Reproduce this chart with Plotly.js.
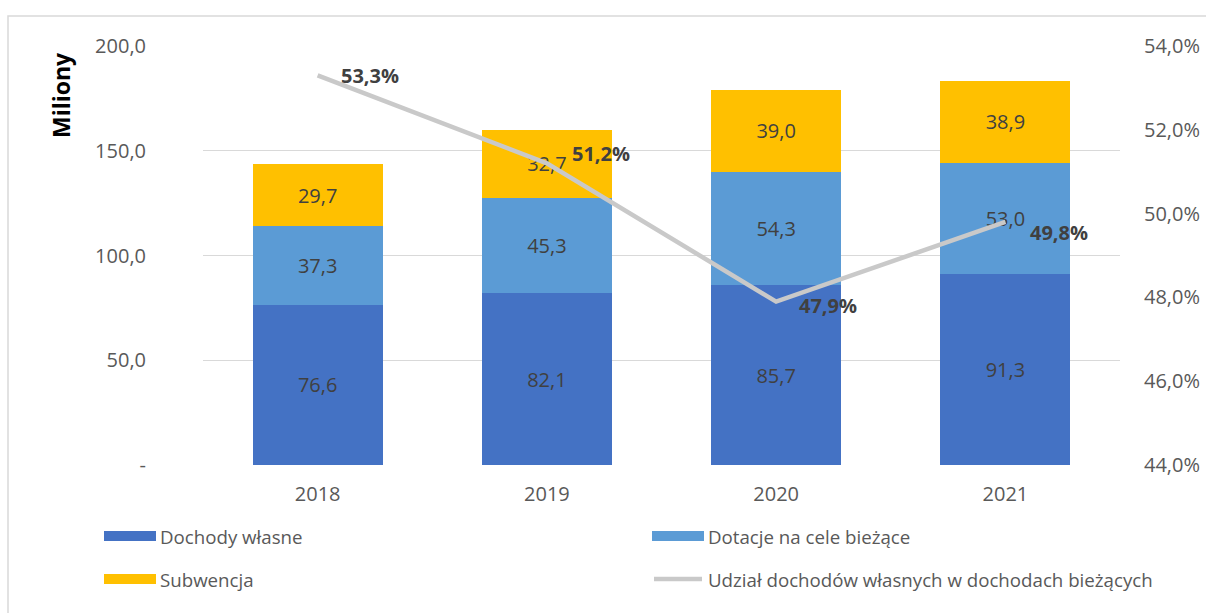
<!DOCTYPE html>
<html><head><meta charset="utf-8">
<script src="https://cdn.plot.ly/plotly-3.0.1.min.js"></script>
<style>html,body{margin:0;padding:0;background:#fff}</style>
</head><body><div id="chart" style="width:1206px;height:613px"></div>
<script>
const years = ['2018', '2019', '2020', '2021'];
const dochodyWlasne = [76.6, 82.1, 85.7, 91.3];
const dotacje = [37.3, 45.3, 54.3, 53.0];
const subwencja = [29.7, 32.7, 39.0, 38.9];
const udzial = [53.3, 51.2, 47.9, 49.8];
const seriesNames = ['Dochody własne', 'Dotacje na cele bieżące', 'Subwencja', 'Udział dochodów własnych w dochodach bieżących'];
const seriesColors = ['#4472C4', '#5B9BD5', '#FFC000', '#C9C9C9'];
const leftTickVals = [0, 50, 100, 150, 200];
const leftTickText = ['-', '50,0', '100,0', '150,0', '200,0'];
const rightTickVals = [44, 46, 48, 50, 52, 54];
const rightTickText = ['44,0%', '46,0%', '48,0%', '50,0%', '52,0%', '54,0%'];

const FONT = 'Open Sans, sans-serif';
const barText = {family: FONT, size: 20, color: '#404040'};

// pixel -> paper helpers (plot area: x 203..1120, y 46..465)
const PL = 203, PW = 917, PB = 465, PH = 419;
const px = x => (x - PL) / PW;
const py = y => (PB - y) / PH;

function barTrace(vals, name, color) {
  return {
    type: 'bar', x: years, y: vals, name: name,
    marker: {color: color, line: {width: 0}},
    texttemplate: '%{y:.1f}', textposition: 'inside', insidetextanchor: 'middle',
    textfont: barText, constraintext: 'none', hoverinfo: 'y+name'
  };
}

const traces = [
  barTrace(dochodyWlasne, seriesNames[0], seriesColors[0]),
  barTrace(dotacje, seriesNames[1], seriesColors[1]),
  barTrace(subwencja, seriesNames[2], seriesColors[2]),
  {
    type: 'scatter', mode: 'lines', x: years, y: udzial, name: seriesNames[3],
    yaxis: 'y2', line: {color: seriesColors[3], width: 4.5}
  }
];

const labelShifts = [[21, 0], [23, 10], [21, -4], [23, -11]];
const annotations = udzial.map((v, i) => ({
  x: i, y: v, xref: 'x', yref: 'y2',
  text: '<b>' + v.toFixed(1).replace('.', ',') + '%</b>',
  showarrow: false, xanchor: 'left', yanchor: 'middle',
  xshift: labelShifts[i][0], yshift: labelShifts[i][1],
  font: {family: FONT, size: 20, color: '#404040'}
}));
annotations.push({
  text: '<b>Miliony</b>', textangle: -90, showarrow: false,
  xref: 'paper', yref: 'paper', x: px(61), y: py(95),
  xanchor: 'center', yanchor: 'middle',
  font: {family: FONT, size: 23, color: '#000000'}
});

// custom legend (2 columns x 2 rows)
const legendPos = [[104, 536], [652, 536], [104, 579], [652, 579]];
const shapes = [{
  type: 'rect', xref: 'paper', yref: 'paper',
  x0: px(8), x1: px(1212), y0: py(620), y1: py(16),
  line: {color: '#D9D9D9', width: 1.5}, fillcolor: 'rgba(0,0,0,0)', layer: 'below'
}];
seriesNames.forEach((name, i) => {
  const [lx, ly] = legendPos[i];
  if (i < 3) {
    shapes.push({type: 'rect', xref: 'paper', yref: 'paper',
      x0: px(lx), x1: px(lx + 52), y0: py(ly + 5), y1: py(ly - 5),
      fillcolor: seriesColors[i], line: {width: 0}});
  } else {
    shapes.push({type: 'line', xref: 'paper', yref: 'paper',
      x0: px(lx + 2), x1: px(lx + 50), y0: py(ly), y1: py(ly),
      line: {color: seriesColors[i], width: 4.5}});
  }
  annotations.push({
    text: name, showarrow: false, xref: 'paper', yref: 'paper',
    x: px(lx + 54), y: py(ly), xanchor: 'left', yanchor: 'middle',
    font: {family: FONT, size: 18.7, color: '#595959'}
  });
});

const layout = {
  width: 1206, height: 613,
  margin: {l: 203, r: 86, t: 46, b: 148, autoexpand: false},
  paper_bgcolor: '#ffffff', plot_bgcolor: '#ffffff',
  separators: ', ',
  barmode: 'stack', bargap: 0.433,
  font: {family: FONT},
  showlegend: false,
  xaxis: {
    type: 'category', range: [-0.5, 3.5], showgrid: false, zeroline: false,
    showline: false, ticks: 'outside', ticklen: 11, tickcolor: 'rgba(0,0,0,0)',
    tickfont: {family: FONT, size: 20, color: '#595959'}
  },
  yaxis: {
    range: [0, 200], tickvals: leftTickVals, ticktext: leftTickText,
    showgrid: true, gridcolor: '#D9D9D9', gridwidth: 1.3, zeroline: false, showline: false,
    ticks: 'outside', ticklen: 52, tickcolor: 'rgba(0,0,0,0)',
    tickfont: {family: FONT, size: 20, color: '#595959'}
  },
  yaxis2: {
    overlaying: 'y', side: 'right', range: [44, 54],
    tickvals: rightTickVals, ticktext: rightTickText,
    showgrid: false, zeroline: false, showline: false,
    ticks: 'outside', ticklen: 19, tickcolor: 'rgba(0,0,0,0)',
    tickfont: {family: FONT, size: 20, color: '#595959'}
  },
  annotations: annotations,
  shapes: shapes
};

Plotly.newPlot('chart', traces, layout, {displayModeBar: false, staticPlot: true});
</script></body></html>
